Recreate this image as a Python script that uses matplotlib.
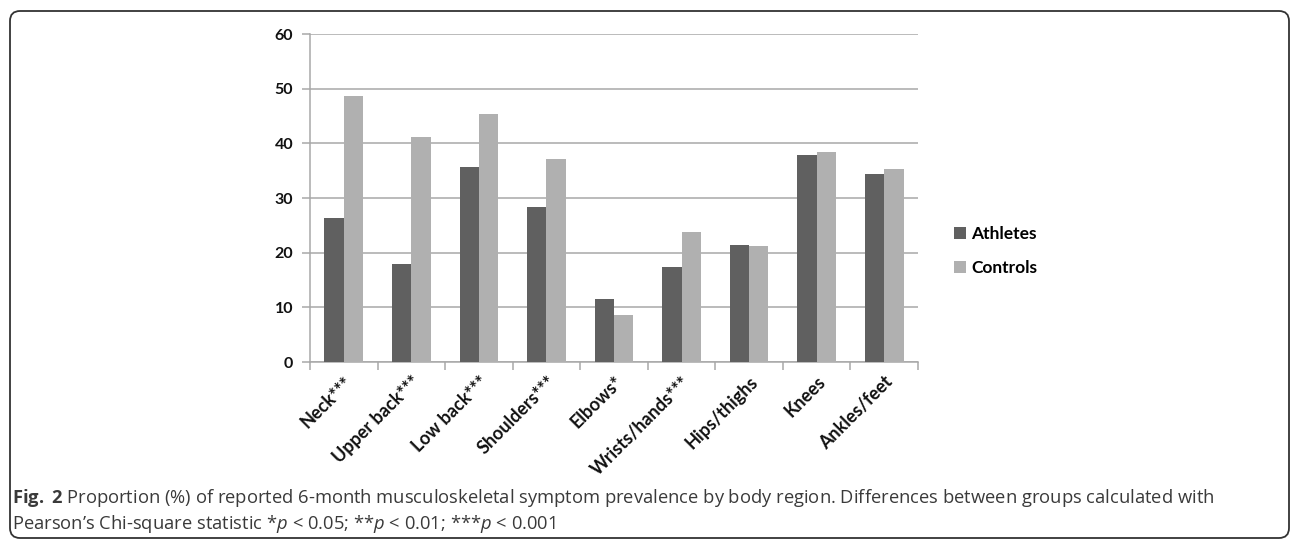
import numpy as np
import matplotlib
matplotlib.use("Agg")
import matplotlib.pyplot as plt
from matplotlib.patches import FancyBboxPatch
from matplotlib.transforms import IdentityTransform

regions = ["Neck***", "Upper back***", "Low back***", "Shoulders***", "Elbows*",
           "Wrists/hands***", "Hips/thighs", "Knees", "Ankles/feet"]
athletes = [26.3, 18.0, 35.7, 28.3, 11.5, 17.4, 21.4, 37.8, 34.3]
controls = [48.6, 41.2, 45.3, 37.1, 8.6, 23.8, 21.2, 38.4, 35.3]
yticks = [0, 10, 20, 30, 40, 50, 60]

plt.rcParams['mathtext.fontset'] = 'custom'
plt.rcParams['mathtext.rm'] = 'Open Sans'
plt.rcParams['mathtext.it'] = 'Open Sans:italic'
plt.rcParams['mathtext.bf'] = 'Open Sans:bold'

fig = plt.figure(figsize=(12.92, 5.4), dpi=100)
ax = fig.add_axes([310 / 1292, 1 - 362 / 540, 608 / 1292, 328 / 540])

x = np.arange(len(regions))
w = 0.286
ax.bar(x - w / 2, athletes, w, color='#606060', label='Athletes', zorder=3)
ax.bar(x + w / 2, controls, w, color='#b0b0b0', label='Controls', zorder=3)

ax.set_xlim(-0.5, len(regions) - 0.5)
ax.set_ylim(0, 60)
ax.set_yticks(yticks)
ax.set_yticklabels([str(t) for t in yticks], fontfamily='Lato', fontweight='bold',
                   fontsize=11.5, color='#111111')
ax.yaxis.grid(True, color='#a8a8a8', linewidth=1.1, zorder=0)
ax.tick_params(axis='y', length=6, width=1.1, color='#a8a8a8', pad=6)

ax.set_xticks(x)
ax.set_xticklabels(regions, rotation=45, ha='right', rotation_mode='anchor',
                   fontfamily='Lato', fontweight='bold', fontsize=13, color='#111111')
ax.set_xticks(np.arange(len(regions) + 1) - 0.5, minor=True)
ax.tick_params(axis='x', which='major', length=0, pad=8)
ax.tick_params(axis='x', which='minor', length=6, width=1.1, color='#a8a8a8')

for side in ['top', 'right']:
    ax.spines[side].set_visible(False)
for side in ['left', 'bottom']:
    ax.spines[side].set_color('#a8a8a8')
    ax.spines[side].set_linewidth(1.1)

fig.legend(loc='center left', bbox_to_anchor=(938 / 1292, 1 - 251 / 540), frameon=False,
           handlelength=0.7, handleheight=0.7, handletextpad=0.3, labelspacing=1.0,
           prop={'family': 'Lato', 'weight': 'bold', 'size': 12.5})

# caption below the chart
cap_color = '#3a3a3a'
fig.text(12 / 1292, 1 - 498 / 540,
         r"$\mathbf{Fig.}$ $\mathbf{2}$ Proportion (%) of reported 6-month musculoskeletal symptom "
         "prevalence by body region. Differences between groups calculated with",
         fontfamily='Open Sans', fontsize=13.2, color=cap_color, va='center')
fig.text(12 / 1292, 1 - 524 / 540,
         "Pearson\u2019s Chi-square statistic *$p$ < 0.05; **$p$ < 0.01; ***$p$ < 0.001",
         fontfamily='Open Sans', fontsize=13.2, color=cap_color, va='center')

# rounded frame around the whole figure
frame = FancyBboxPatch((10, 2), 1279, 527, boxstyle='round,pad=0,rounding_size=10',
                       transform=IdentityTransform(), fill=False,
                       edgecolor='#333333', linewidth=1.3)
fig.patches.append(frame)

fig.savefig('out.png', dpi=100)
